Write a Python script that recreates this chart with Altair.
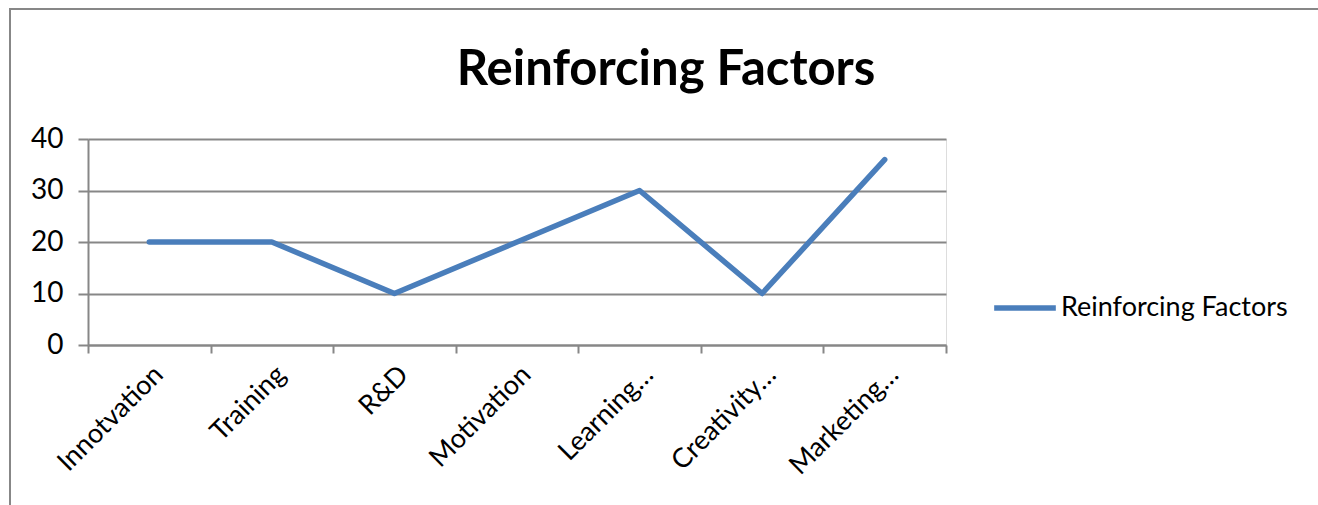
import altair as alt
import pandas as pd

# Chart data
categories = ["Innotvation", "Training", "R&D", "Motivation", "Learning…", "Creativity…", "Marketing…"]
values = [20, 20, 10, 20, 30, 10, 36]
series_name = "Reinforcing Factors"
chart_title = "Reinforcing Factors"

df = pd.DataFrame({"category": categories, "value": values, "series": series_name})

GRID = "#878787"
BLUE = "#4A7EBB"
FONT = "Lato"

line = alt.Chart(df).mark_line(strokeWidth=5.5, strokeCap="round", strokeJoin="round").encode(
    x=alt.X(
        "category:N",
        sort=categories,
        scale=alt.Scale(paddingInner=0, paddingOuter=0),
        axis=alt.Axis(
            title=None,
            labelAngle=-45,
            labelFontSize=27,
            labelFont=FONT,
            labelColor="#000000",
            labelPadding=8,
            tickBand="extent",
            tickSize=8,
            tickColor=GRID,
            tickWidth=2,
            domainColor=GRID,
            domainWidth=2,
            grid=False,
            labelLimit=300,
        ),
    ),
    y=alt.Y(
        "value:Q",
        scale=alt.Scale(domain=[0, 40]),
        axis=alt.Axis(
            title=None,
            values=[0, 10, 20, 30, 40],
            labelFontSize=28,
            labelFont=FONT,
            labelColor="#000000",
            labelPadding=15,
            tickSize=10,
            tickColor=GRID,
            tickWidth=2,
            domainColor=GRID,
            domainWidth=2,
            gridColor=GRID,
            gridWidth=2,
            gridOpacity=1,
        ),
    ),
    color=alt.Color(
        "series:N",
        scale=alt.Scale(range=[BLUE]),
        legend=alt.Legend(
            title=None,
            orient="none",
            legendX=903,
            legendY=135,
            symbolType="stroke",
            symbolSize=3800,
            symbolStrokeWidth=5.5,
            labelFontSize=27,
            labelFont=FONT,
            labelColor="#000000",
            labelLimit=400,
            labelOffset=2,
        ),
    ),
)

# Outer chart frame
frame = alt.Chart(pd.DataFrame({"f": [0]})).mark_rect(
    fill=None, stroke=GRID, strokeWidth=2
).encode(
    x=alt.value(-78), x2=alt.value(1300), y=alt.value(-130), y2=alt.value(500)
)

# Chart heading, centred over the frame
heading = alt.Chart(pd.DataFrame({"t": [chart_title]})).mark_text(
    font=FONT, fontSize=49, fontWeight="bold", color="#000000",
    align="center", baseline="alphabetic",
).encode(text="t:N", x=alt.value(578), y=alt.value(-54))

chart = alt.layer(frame, heading, line).properties(
    width=858,
    height=206,
    autosize=alt.AutoSizeParams(type="none"),
    padding={"left": 88, "top": 139, "right": 372, "bottom": 160},
).configure_view(stroke=None).configure(background="white")

chart.save("out.html", embed_options={"renderer": "svg", "actions": False})
